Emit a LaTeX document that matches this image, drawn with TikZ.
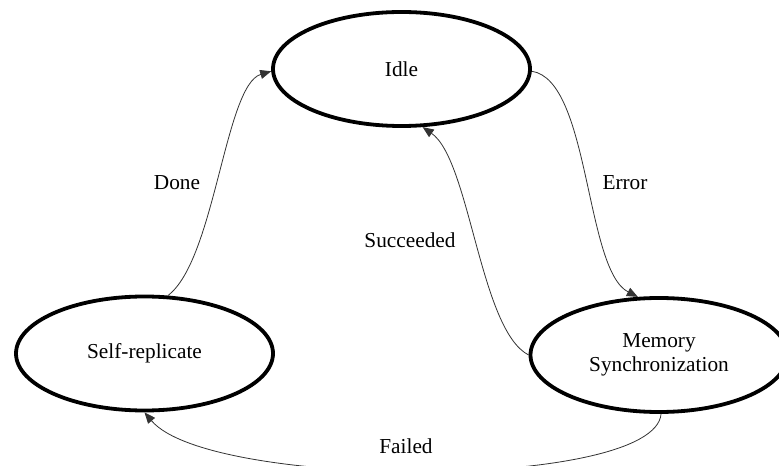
\documentclass[tikz,border=0pt]{standalone}
\usepackage{fontspec}
\setmainfont{Liberation Serif}
\usetikzlibrary{shapes.geometric,arrows.meta}
\begin{document}
\begin{tikzpicture}[x=1bp, y=-1bp,
  state/.style={ellipse, draw, line width=3.8bp, minimum width=257bp, minimum height=114bp, inner sep=0pt, align=center, font=\fontsize{21.3bp}{23.5bp}\selectfont},
  trans/.style={draw=black!80, line width=0.8bp, -{Triangle[length=11bp,width=9bp]}},
  lbl/.style={font=\fontsize{21.3bp}{23.5bp}\selectfont}]
\clip (0,0) rectangle (779,466);
\node[state] (idle) at (401.5,69){Idle};
\node[state] (selfrep) at (144.5,353.5){Self-replicate};
\node[state] (memsync) at (659,355){Memory\\Synchronization};
\node[lbl] (ldone) at (177,183){Done};
\node[lbl] (lerror) at (625,183){Error};
\node[lbl] (lsucc) at (410,240){Succeeded};
\node[lbl] (lfail) at (406,446){Failed};
\draw[trans](selfrep.68) .. controls (215,260) and (225,85) .. (idle.181);
\draw[trans](idle.-1) .. controls (590,80) and (585,270) .. (memsync.110);
\draw[trans](memsync.180) .. controls (480,330) and (470,160) .. (idle.-70);
\draw[trans](memsync.-88) .. controls (655,490) and (210,490) .. (selfrep.south);
\end{tikzpicture}
\end{document}
